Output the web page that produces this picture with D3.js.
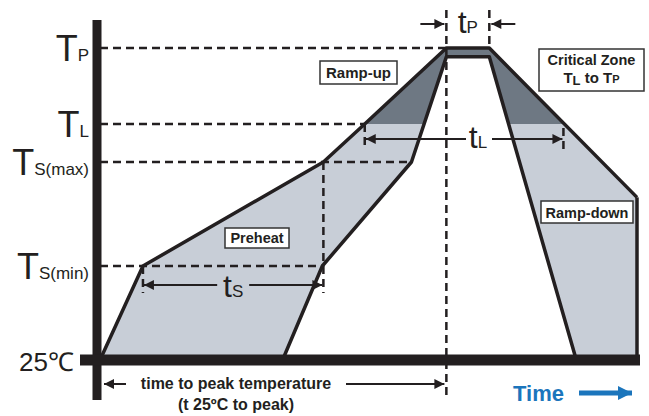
<!DOCTYPE html>
<html>
<head>
<meta charset="utf-8">
<script src="https://cdn.jsdelivr.net/npm/d3@7"></script>
<style>
  html, body { margin: 0; padding: 0; background: #fff; }
  svg { display: block; font-family: "Liberation Sans", Arial, sans-serif; }
</style>
</head>
<body>
<div id="chart"></div>
<script>
// temperature levels (deg C) and their labels
const levelTemps = [25, 150, 200, 217, 260];
const levelMain = ['25\u2103', 'T', 'T', 'T', 'T'];
const levelSub = ['', 'S(min)', 'S(max)', 'L', 'P'];

// outer (max) profile, time in % of window
const outerTime = [0, 8, 41.6, 49.3, 64.5, 72.5, 100, 100];
const outerTemp = [25, 150, 200, 217, 260, 260, 183, 25];

// inner (min) profile
const innerTime = [34, 41.4, 58, 64.5, 72.5, 88.7];
const innerTemp = [25, 150, 200, 255, 255, 25];

// key times
const tsStart = 8, tsEnd = 41.6;
const tlStart = 49.3, tlEnd = 86.3;
const tpStart = 64.5, tpEnd = 72.5;
const tsMaxEnd = 58, tsMinEnd = 41.4;

const width = 649, height = 416;
const ink = '#231f20';

const x = d3.scaleLinear().domain([0, 100]).range([100, 637]);
const y = d3.scaleLinear().domain(levelTemps).range([360, 266, 162, 124, 48]);

const svg = d3.select('#chart').append('svg')
  .attr('width', width)
  .attr('height', height);

const defs = svg.append('defs');
defs.append('clipPath').attr('id', 'crit')
  .append('rect')
  .attr('x', 0).attr('y', 0)
  .attr('width', width).attr('height', y(217));

const mk = (id, color, w, h) => {
  defs.append('marker')
    .attr('id', id)
    .attr('viewBox', '0 0 10 10')
    .attr('refX', 10).attr('refY', 5)
    .attr('markerUnits', 'userSpaceOnUse')
    .attr('markerWidth', w).attr('markerHeight', h)
    .attr('orient', 'auto-start-reverse')
    .append('path')
    .attr('d', 'M0,0L10,5L0,10Z')
    .attr('fill', color);
};
mk('arr', ink, 12, 10);
mk('arrBlue', '#1b75bc', 14, 14);

const outerPts = outerTime.map((t, i) => [x(t), y(outerTemp[i])]);
const innerPts = innerTime.map((t, i) => [x(t), y(innerTemp[i])]);
const line = d3.line();

// fills
svg.append('path').attr('d', line(outerPts) + 'Z').attr('fill', '#c8ced7');
svg.append('path').attr('d', line(outerPts) + 'Z').attr('fill', '#6e7883')
  .attr('clip-path', 'url(#crit)');
svg.append('path').attr('d', line(innerPts) + 'Z').attr('fill', '#fff');

// dashed guides
const dash = (x1, y1, x2, y2) => svg.append('line')
  .attr('x1', x1).attr('y1', y1).attr('x2', x2).attr('y2', y2)
  .attr('stroke', ink).attr('stroke-width', 2.5)
  .attr('stroke-dasharray', '8,5');

dash(x(0), y(260), x(tpStart), y(260));
dash(x(0), y(217), x(tlStart), y(217));
dash(x(0), y(200), x(tsMaxEnd), y(200));
dash(x(0), y(150), x(tsMinEnd), y(150));
dash(x(tsStart), y(150), x(tsStart), 293);
dash(x(tsEnd), y(200), x(tsEnd), 293);
dash(x(tlStart), y(217), x(tlStart), 149);
dash(x(tlEnd), 128, x(tlEnd), 150);
dash(x(tpStart), 10, x(tpStart), 395);
dash(x(tpEnd), 10, x(tpEnd), y(260));

// profile strokes
svg.append('path').attr('d', line(outerPts.slice(0, 7)))
  .attr('fill', 'none').attr('stroke', ink).attr('stroke-width', 3.5)
  .attr('stroke-linejoin', 'round');
svg.append('path').attr('d', line(outerPts.slice(6)))
  .attr('fill', 'none').attr('stroke', ink).attr('stroke-width', 3.5);
svg.append('path').attr('d', line(innerPts))
  .attr('fill', 'none').attr('stroke', ink).attr('stroke-width', 3.5)
  .attr('stroke-linejoin', 'round');

// axes
svg.append('line').attr('x1', 97).attr('x2', 97).attr('y1', 20).attr('y2', 400)
  .attr('stroke', ink).attr('stroke-width', 9);
svg.append('line').attr('x1', 80).attr('x2', 640).attr('y1', y(25)).attr('y2', y(25))
  .attr('stroke', ink).attr('stroke-width', 11);

// level labels
levelTemps.forEach((t, i) => {
  const txt = svg.append('text')
    .attr('x', i === 0 ? 74 : 89)
    .attr('y', i === 0 ? 371 : y(t) + 13)
    .attr('text-anchor', 'end')
    .attr('fill', ink);
  txt.append('tspan').attr('font-size', i === 0 ? 26 : 36).text(levelMain[i]);
  txt.append('tspan').attr('font-size', 17).text(levelSub[i]);
});

// duration arrows
const arrow = (x1, x2, yy, endMarker) => svg.append('line')
  .attr('x1', x1).attr('x2', x2).attr('y1', yy).attr('y2', yy)
  .attr('stroke', ink).attr('stroke-width', 2)
  .attr('marker-end', endMarker);

const durLabel = (cx, base, sub) => {
  const txt = svg.append('text').attr('x', cx).attr('y', base)
    .attr('text-anchor', 'middle').attr('fill', ink);
  txt.append('tspan').attr('font-size', 32).text('t');
  txt.append('tspan').attr('font-size', 17).text(sub);
};

// tS
const tsMid = (x(tsStart) + x(tsEnd)) / 2;
arrow(tsMid - 16, x(tsStart) + 1, 285, 'url(#arr)');
arrow(tsMid + 16, x(tsEnd) - 1, 285, 'url(#arr)');
durLabel(tsMid, 297, 'S');

// tL
arrow(466, x(tlStart) + 1, 139, 'url(#arr)');
arrow(492, x(tlEnd) - 1, 139, 'url(#arr)');
durLabel(478, 148, 'L');

// tP
arrow(x(tpStart) - 26, x(tpStart) - 2, 24, 'url(#arr)');
arrow(x(tpEnd) + 26, x(tpEnd) + 2, 24, 'url(#arr)');
durLabel((x(tpStart) + x(tpEnd)) / 2, 33, 'P');

// time to peak
arrow(126, x(0) + 4, 384, 'url(#arr)');
arrow(346, x(tpStart) - 2, 384, 'url(#arr)');
svg.append('text').attr('x', 236).attr('y', 389)
  .attr('text-anchor', 'middle').attr('font-size', 16).attr('font-weight', 'bold')
  .attr('fill', ink).text('time to peak temperature');
svg.append('text').attr('x', 236).attr('y', 410)
  .attr('text-anchor', 'middle').attr('font-size', 16).attr('font-weight', 'bold')
  .attr('fill', ink).text('(t 25\u00baC to peak)');

// boxed labels
const box = (x0, y0, w, h) => svg.append('rect')
  .attr('x', x0).attr('y', y0).attr('width', w).attr('height', h)
  .attr('fill', '#fff').attr('stroke', '#333').attr('stroke-width', 1.5);
const boxText = (cx, base, s, size) => svg.append('text')
  .attr('x', cx).attr('y', base).attr('text-anchor', 'middle')
  .attr('font-size', size).attr('font-weight', 'bold').attr('fill', ink).text(s);

box(320, 61, 77, 23); boxText(358.5, 78, 'Ramp-up', 15);
box(225, 228, 64, 20); boxText(257, 243, 'Preheat', 14.5);
box(541, 201, 92, 22); boxText(587, 217.5, 'Ramp-down', 14.5);
box(539, 49, 105, 42); boxText(591.5, 65, 'Critical Zone', 14.5);
const cz = svg.append('text').attr('x', 591.5).attr('y', 83)
  .attr('text-anchor', 'middle').attr('font-weight', 'bold').attr('fill', ink);
cz.append('tspan').attr('font-size', 15).text('T');
cz.append('tspan').attr('font-size', 13).attr('dy', 2).text('L');
cz.append('tspan').attr('font-size', 15).attr('dy', -2).text(' to T');
cz.append('tspan').attr('font-size', 11).text('P');

// Time legend
svg.append('text').attr('x', 513).attr('y', 401)
  .attr('font-size', 22).attr('font-weight', 'bold').attr('fill', '#1b75bc')
  .text('Time');
svg.append('line').attr('x1', 579).attr('x2', 632).attr('y1', 393).attr('y2', 393)
  .attr('stroke', '#1b75bc').attr('stroke-width', 5)
  .attr('marker-end', 'url(#arrBlue)');
</script>
</body>
</html>
